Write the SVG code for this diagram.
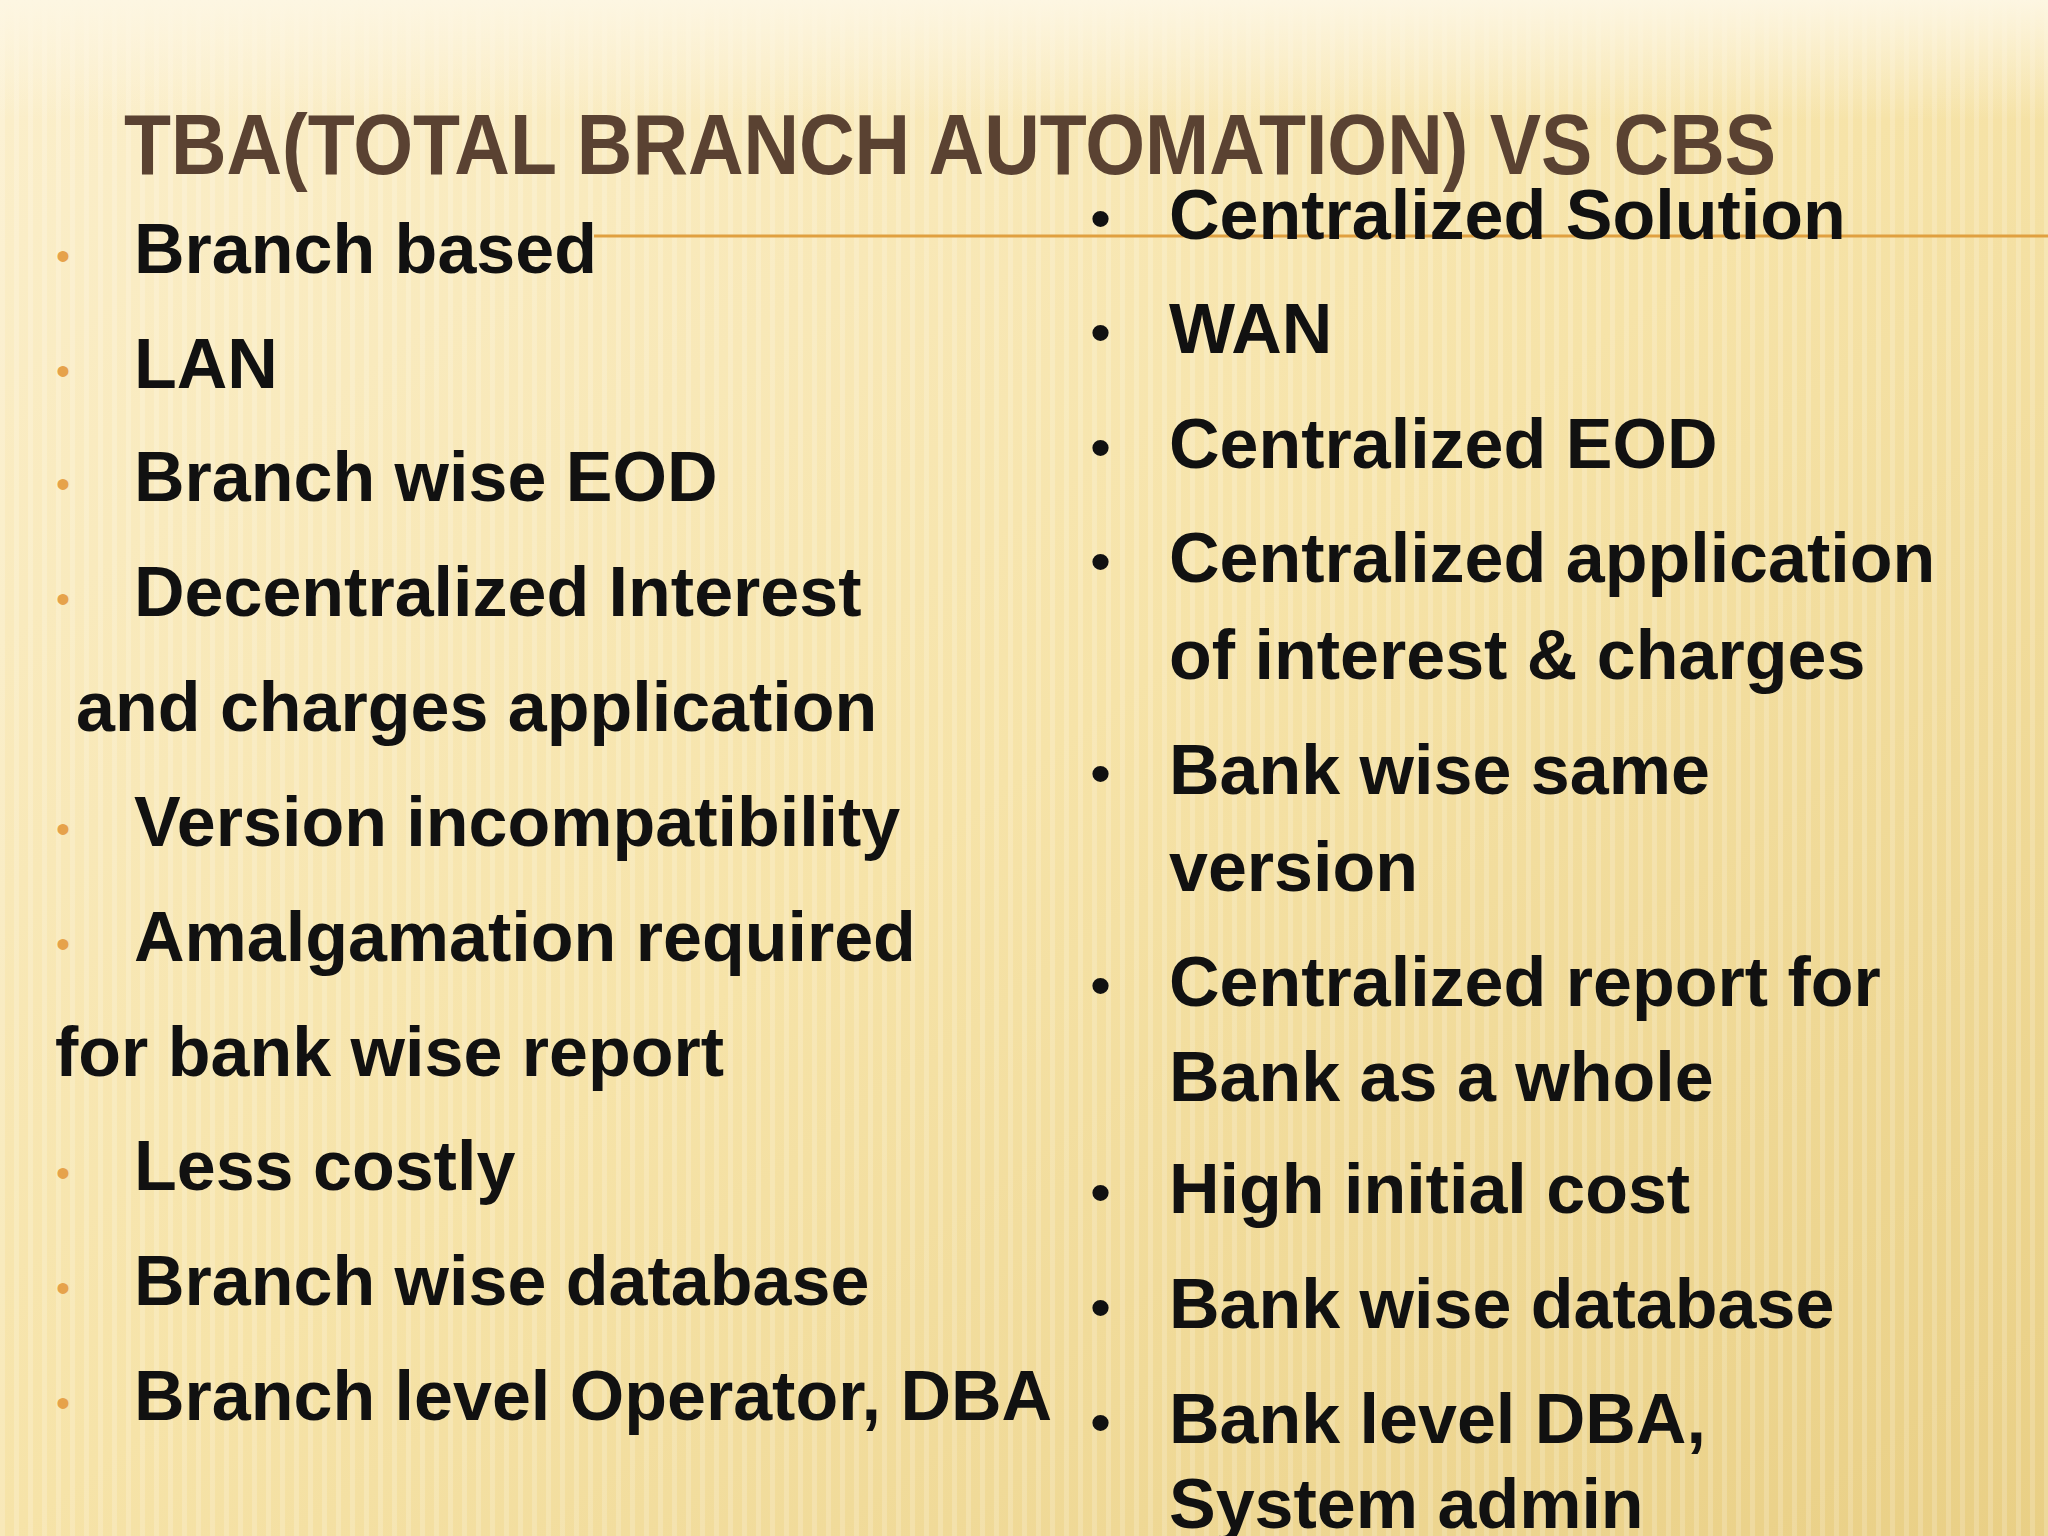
<svg xmlns="http://www.w3.org/2000/svg" width="2048" height="1536" viewBox="0 0 2048 1536">
<defs>
<linearGradient id="bg" x1="0" y1="0" x2="1" y2="1">
<stop offset="0" stop-color="#fbefcc"/>
<stop offset="0.5" stop-color="#f6e3a8"/>
<stop offset="1" stop-color="#e9cf85"/>
</linearGradient>
<linearGradient id="top" x1="0" y1="0" x2="0" y2="1">
<stop offset="0" stop-color="#fdf6e2" stop-opacity="1"/>
<stop offset="1" stop-color="#fdf6e2" stop-opacity="0"/>
</linearGradient>
<pattern id="stripes" width="14" height="20" patternUnits="userSpaceOnUse">
<rect width="5" height="20" fill="#ffffff" opacity="0.18"/>
</pattern>
<style>
.t{font-family:"Liberation Sans",Arial,sans-serif;font-weight:bold;font-size:70px;fill:#111}
.bl{font-family:"Liberation Sans",Arial,sans-serif;font-size:40px;fill:#e6a24a}
.br{font-family:"Liberation Sans",Arial,sans-serif;font-size:60px;fill:#111}
</style>
</defs>
<rect width="2048" height="1536" fill="url(#bg)"/>
<rect width="2048" height="1536" fill="url(#stripes)"/>
<rect width="2048" height="120" fill="url(#top)"/>
<line x1="594" y1="236" x2="2048" y2="236" stroke="#e0a040" stroke-width="3"/>
<text x="124" y="174" font-family="'Liberation Sans',Arial,sans-serif" font-weight="bold" font-size="86" fill="#5a4232" textLength="1652" lengthAdjust="spacingAndGlyphs">TBA(TOTAL BRANCH AUTOMATION) VS CBS</text>
<g id="left">
<text class="bl" x="56" y="270">•</text><text class="t" x="134" y="273">Branch based</text>
<text class="bl" x="56" y="385">•</text><text class="t" x="134" y="388">LAN</text>
<text class="bl" x="56" y="498">•</text><text class="t" x="134" y="501">Branch wise EOD</text>
<text class="bl" x="56" y="613">•</text><text class="t" x="134" y="616">Decentralized Interest</text>
<text class="t" x="76" y="731">and charges application</text>
<text class="bl" x="56" y="843">•</text><text class="t" x="134" y="846">Version incompatibility</text>
<text class="bl" x="56" y="958">•</text><text class="t" x="134" y="961">Amalgamation required</text>
<text class="t" x="55" y="1076">for bank wise report</text>
<text class="bl" x="56" y="1187">•</text><text class="t" x="134" y="1190">Less costly</text>
<text class="bl" x="56" y="1302">•</text><text class="t" x="134" y="1305">Branch wise database</text>
<text class="bl" x="56" y="1417">•</text><text class="t" x="134" y="1420">Branch level Operator, DBA</text>
</g>
<g id="right">
<text class="br" x="1090" y="239">•</text><text class="t" x="1169" y="239">Centralized Solution</text>
<text class="br" x="1090" y="353">•</text><text class="t" x="1169" y="353">WAN</text>
<text class="br" x="1090" y="468">•</text><text class="t" x="1169" y="468">Centralized EOD</text>
<text class="br" x="1090" y="582">•</text><text class="t" x="1169" y="582">Centralized application</text>
<text class="t" x="1169" y="679">of interest &amp; charges</text>
<text class="br" x="1090" y="794">•</text><text class="t" x="1169" y="794">Bank wise same</text>
<text class="t" x="1169" y="891">version</text>
<text class="br" x="1090" y="1006">•</text><text class="t" x="1169" y="1006">Centralized report for</text>
<text class="t" x="1169" y="1101">Bank as a whole</text>
<text class="br" x="1090" y="1213">•</text><text class="t" x="1169" y="1213">High initial cost</text>
<text class="br" x="1090" y="1328">•</text><text class="t" x="1169" y="1328">Bank wise database</text>
<text class="br" x="1090" y="1443">•</text><text class="t" x="1169" y="1443">Bank level DBA,</text>
<text class="t" x="1169" y="1528">System admin</text>
</g>
</svg>
